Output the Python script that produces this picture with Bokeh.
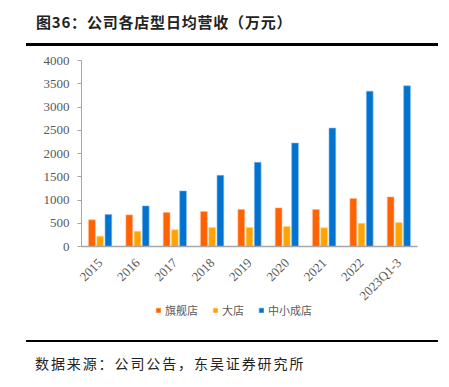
from bokeh.plotting import figure
from bokeh.models import (FactorRange, Range1d, SingleIntervalTicker,
                          Legend, LegendItem, ColumnDataSource, Div)
from bokeh.layouts import column
from bokeh.transform import dodge
from bokeh.embed import file_html
from bokeh.resources import INLINE
import math

categories = ["2015", "2016", "2017", "2018", "2019", "2020", "2021", "2022", "2023Q1-3"]
flagship = [573, 680, 730, 751, 797, 830, 794, 1030, 1066]
large = [221, 328, 358, 408, 411, 429, 401, 500, 515]
small_medium = [687, 873, 1195, 1530, 1810, 2225, 2547, 3341, 3455]
series_names = ["旗舰店", "大店", "中小成店"]
colors = ["#FF6200", "#FFA300", "#0073CF"]
edge_colors = ["#FFB08A", "#FFD48A", "#7FB6EA"]

title_text = "图36：公司各店型日均营收（万元）"
source_text = "数据来源：公司公告，东吴证券研究所"

W = 440
TOP_H, MAIN_H, LEG_H, BOT_H = 50, 262, 28, 49
LEG_OVERLAP = 10
FRAME_L, FRAME_R = 81, 417

top = Div(width=W, height=TOP_H, margin=0, text=(
    f'<div style="position:relative;width:{W}px;height:{TOP_H}px;">'
    '<div style="position:absolute;left:36px;top:11px;font-family:\'Noto Sans CJK SC\';'
    'font-weight:bold;font-size:15px;line-height:22px;color:#222222;'
    f'letter-spacing:0.8px;white-space:nowrap;">{title_text}</div>'
    '<div style="position:absolute;left:26px;top:43px;width:412px;height:3px;'
    'background:#000000;"></div></div>'))

bot = Div(width=W, height=BOT_H, margin=0, text=(
    f'<div style="position:relative;width:{W}px;height:{BOT_H}px;">'
    '<div style="position:absolute;left:26px;top:10px;width:412px;height:1.5px;'
    'background:#000000;"></div>'
    '<div style="position:absolute;left:35px;top:23px;font-family:\'Noto Sans CJK SC\';'
    'font-size:14px;line-height:20px;color:#222222;letter-spacing:1.9px;'
    f'white-space:nowrap;">{source_text}</div></div>'))

# --- main chart ---
src = ColumnDataSource(dict(cat=categories, f=flagship, l=large, s=small_medium))

p = figure(width=W, height=MAIN_H, x_range=FactorRange(*categories),
           y_range=Range1d(0, 4000), output_backend="svg", toolbar_location=None,
           min_border_left=FRAME_L, min_border_right=W - FRAME_R, min_border_top=10,
           min_border_bottom=MAIN_H - 196, margin=0)
p.outline_line_color = None
p.xgrid.grid_line_color = None
p.ygrid.grid_line_color = None

bw = 0.18
p.vbar(x=dodge("cat", -0.22, range=p.x_range), top="f", width=bw, source=src,
       fill_color=colors[0], line_color=edge_colors[0], line_width=0.6)
p.vbar(x=dodge("cat", 0.0, range=p.x_range), top="l", width=bw, source=src,
       fill_color=colors[1], line_color=edge_colors[1], line_width=0.6)
p.vbar(x=dodge("cat", 0.22, range=p.x_range), top="s", width=bw, source=src,
       fill_color=colors[2], line_color=edge_colors[2], line_width=0.6)

axis_color = "#A6A6A6"
label_color = "#595959"
p.yaxis.ticker = SingleIntervalTicker(interval=500)
p.yaxis.axis_line_color = axis_color
p.yaxis.major_tick_line_color = axis_color
p.yaxis.major_tick_out = 4
p.yaxis.major_tick_in = 0
p.yaxis.minor_tick_line_color = None
p.yaxis.major_label_text_font = "Liberation Serif"
p.yaxis.major_label_text_font_size = "13px"
p.yaxis.major_label_text_color = label_color
p.yaxis.major_label_standoff = 8

p.xaxis.axis_line_color = axis_color
p.xaxis.axis_line_width = 1.5
p.xaxis.major_tick_line_color = None
p.xaxis.minor_tick_line_color = None
p.xaxis.major_label_orientation = math.pi / 4
p.xaxis.major_label_text_font = "Liberation Serif"
p.xaxis.major_label_text_font_size = "13px"
p.xaxis.major_label_text_color = label_color
p.xaxis.major_label_standoff = 8

# --- legend strip (legend proxies sit outside the visible range) ---
lf = figure(width=W, height=LEG_H, x_range=Range1d(0, 1), y_range=Range1d(0, 1),
            output_backend="svg", toolbar_location=None,
            x_axis_location=None, y_axis_location=None,
            min_border_left=FRAME_L, min_border_right=W - FRAME_R,
            min_border_top=0, min_border_bottom=0,
            margin=(-LEG_OVERLAP, 0, 0, 0))
lf.outline_line_color = None
lf.xgrid.grid_line_color = None
lf.ygrid.grid_line_color = None
lf.background_fill_color = None
lf.border_fill_color = None
proxies = []
for c, ec in zip(colors, edge_colors):
    proxies.append(lf.vbar(x=[-5], top=[-5], width=0.1, fill_color=c,
                           line_color=ec, line_width=0.6))
legend = Legend(items=[LegendItem(label=n, renderers=[r])
                       for n, r in zip(series_names, proxies)],
                location=(74, 12), orientation="horizontal",
                glyph_width=6, glyph_height=6, label_standoff=4, spacing=14,
                label_height=14, padding=0, margin=0, border_line_color=None,
                background_fill_alpha=0,
                label_text_font="Noto Sans CJK SC", label_text_font_size="11px",
                label_text_color=label_color)
lf.add_layout(legend, "center")

layout = column(top, p, lf, bot, spacing=0)
open("out.html", "w").write(file_html(layout, INLINE))
